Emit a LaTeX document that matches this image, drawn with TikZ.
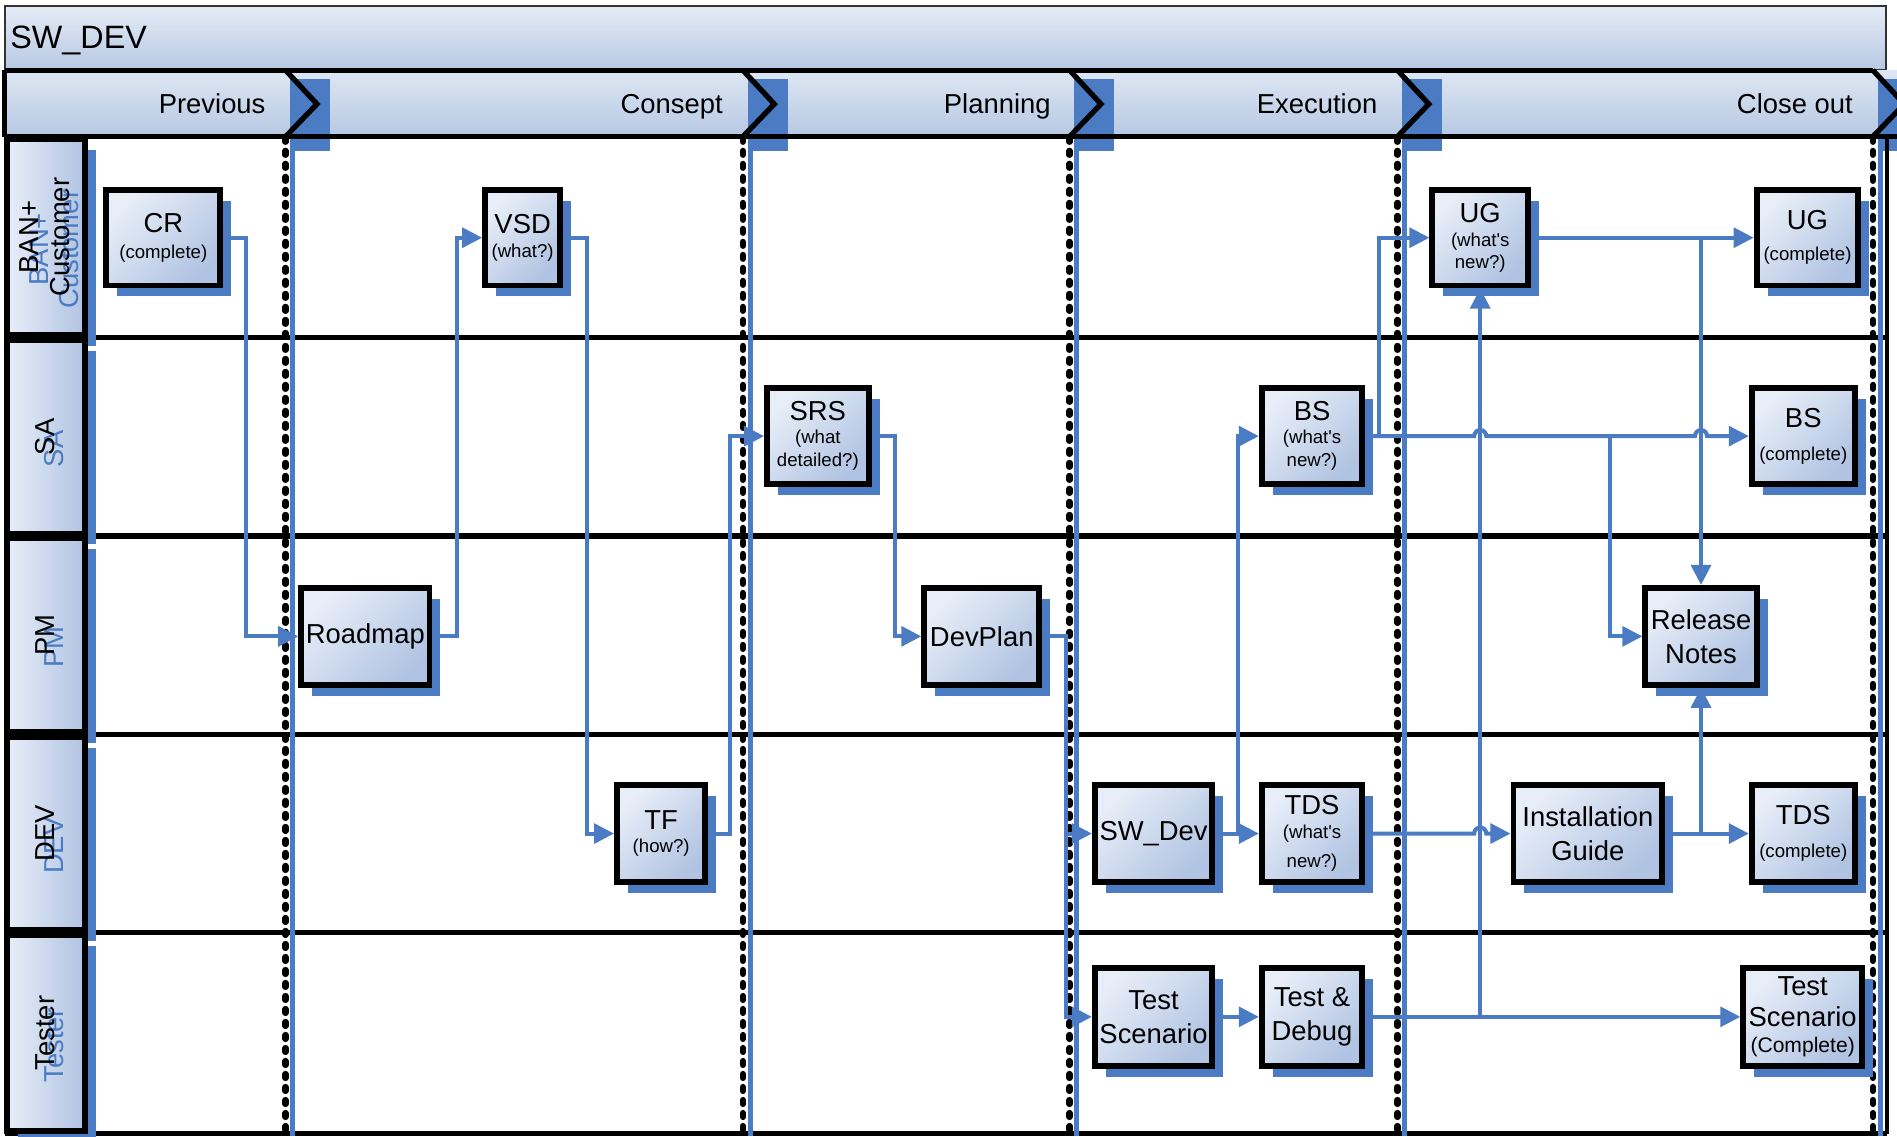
\documentclass[tikz,border=0pt]{standalone}
\usepackage{fontspec}
\setmainfont{Liberation Sans}[Ligatures=TeXOff]
\usetikzlibrary{arrows.meta,shadows,calc}
\definecolor{cblue}{RGB}{74,123,195}
\definecolor{boxlight}{RGB}{232,238,248}
\definecolor{boxdark}{RGB}{176,195,226}
\definecolor{hdrtop}{RGB}{222,231,243}
\definecolor{hdrbot}{RGB}{182,200,227}
\def\ux{0.012098cm}
\newcommand\smalltxt{\fontsize{5.3}{6}\selectfont}
\newcommand\cmpltxt{\fontsize{6}{6}\selectfont}
\newcommand\boxat[7]{\node[#1, minimum width={(#5-#3-4)*\ux}, minimum height={(#6-#4-4)*\ux}] (#2) at ({(#3+#5)/2},{(#4+#6)/2}) {#7};}
\tikzset{
  procbox/.style={draw=black, line width=1.7pt, top color=boxlight, bottom color=boxdark, shading angle=45,
    inner sep=0pt, align=center, font=\fontsize{7.8}{6}\selectfont,
    drop shadow={shadow xshift=9*\ux, shadow yshift=-9*\ux, opacity=1, fill=cblue}},
  lanehdr/.style={draw=black, line width=1.7pt, left color=boxlight, right color=boxdark, inner sep=0pt,
    drop shadow={shadow xshift=9*\ux, shadow yshift=-9*\ux, opacity=1, fill=cblue}},
  lanelab/.style={rotate=90, align=center, inner sep=0pt, font=\fontsize{7.8}{8.6}\selectfont},
  phlab/.style={anchor=base east, inner sep=0pt, font=\fontsize{7.8}{9}\selectfont},
  phasedash/.style={line width=1.8pt, dash pattern=on 1.1pt off 2.6pt, line cap=round},
  conn/.style={draw=cblue, line width=1.15pt, -{Triangle[length=5.7pt, width=5.6pt]}},
}
\begin{document}
\begin{tikzpicture}[x=0.012098cm, y=-0.012098cm]
\useasboundingbox (0,0) rectangle (1568,939);
\clip (0,0) rectangle (1568,939);
\fill[white] (0,0) rectangle (1568,939);

% title band
\shade[top color=hdrtop!80!white, bottom color=hdrbot] (4,5) rectangle (1559,58);
\draw[line width=0.6pt, draw=black!80] (4,5) rectangle (1559,58);
\node[anchor=base west, inner sep=0pt, font=\fontsize{9.2}{11}\selectfont] (title) at (8,40) {SW\_DEV};

% phase header row
\shade[top color=hdrtop, bottom color=hdrbot] (4,58) rectangle (1568,113);

% lane lines
\foreach \y in {279,443,607,771,937} \draw[line width=1.5pt] (4,\y) -- (1560,\y);

% phase separators
\foreach \X in {236,614,884,1155,1548} {
  \fill[cblue] (\X+4,65) rectangle (\X+37,125);
  \draw[cblue, line width=1.4pt] (\X+6,125) -- (\X+6,939);
  \draw[phasedash] (\X,114) -- (\X,937);
}
\draw[line width=1.1pt] (1560,113) -- (1560,937);
\draw[line width=1.5pt] (4,58) -- (1548,58);
\draw[line width=1.5pt] (4,113) -- (1568,113);
\draw[line width=1.5pt] (4,58) -- (4,113);
\foreach \X in {236,614,884,1155,1548} {
  \draw[line width=1.5pt, line join=miter] (\X,58) -- (\X+26,86) -- (\X,113);
}

% phase labels
\node[phlab] (p1) at (220,94) {Previous};
\node[phlab] (p2) at (598,94) {Consept};
\node[phlab] (p3) at (869,94) {Planning};
\node[phlab] (p4) at (1139,94) {Execution};
\node[phlab] (p5) at (1532,94) {Close out};

% lane headers
\boxat{lanehdr}{lh1}{4}{113}{72}{279}{}
\boxat{lanehdr}{lh2}{4}{279}{72}{443}{}
\boxat{lanehdr}{lh3}{4}{443}{72}{607}{}
\boxat{lanehdr}{lh4}{4}{607}{72}{771}{}
\boxat{lanehdr}{lh5}{4}{771}{72}{937}{}

\node[lanelab, text=cblue] (g1) at (45,206) {BAN+\\Customer};
\node[lanelab] (l1) at (37,196) {BAN+\\Customer};
\node[lanelab, text=cblue] (g2) at (45,371) {SA};
\node[lanelab] (l2) at (37,361) {SA};
\node[lanelab, text=cblue] (g3) at (45,535) {PM};
\node[lanelab] (l3) at (37,525) {PM};
\node[lanelab, text=cblue] (g4) at (45,699) {DEV};
\node[lanelab] (l4) at (37,689) {DEV};
\node[lanelab, text=cblue] (g5) at (45,864) {Tester};
\node[lanelab] (l5) at (37,854) {Tester};

% process boxes
\boxat{procbox}{cr}{86}{155}{184}{238}{CR\\[1.2pt]\smalltxt (complete)}
\boxat{procbox}{vsd}{399}{155}{465}{238}{VSD\\[0.9pt]\smalltxt (what?)}
\boxat{procbox}{ugw}{1182}{155}{1265}{238}{UG\\[0.9pt]\smalltxt (what's\\[0.2pt]\smalltxt new?)}
\boxat{procbox}{ugc}{1450}{155}{1538}{238}{UG\\[2.9pt]\smalltxt (complete)}
\boxat{procbox}{srs}{632}{319}{720}{402}{SRS\\[0.5pt]\smalltxt (what\\[0.5pt]\smalltxt detailed?)}
\boxat{procbox}{bsw}{1041}{319}{1128}{402}{BS\\[0.5pt]\smalltxt (what's\\[0.5pt]\smalltxt new?)}
\boxat{procbox}{bsc}{1446}{319}{1535}{402}{BS\\[3.3pt]\smalltxt (complete)}
\boxat{procbox}{road}{247}{484}{357}{568}{Roadmap}
\boxat{procbox}{devplan}{762}{484}{861}{568}{DevPlan}
\boxat{procbox}{rn}{1358}{484}{1454}{568}{Release\\[3.6pt]Notes}
\boxat{procbox}{tf}{508}{647}{585}{731}{TF\\[0.5pt]\smalltxt (how?)}
\boxat{procbox}{swdev}{903}{647}{1004}{731}{SW\_Dev}
\boxat{procbox}{tdsw}{1041}{647}{1128}{731}{TDS\\[0.9pt]\smalltxt (what's\\[2.3pt]\smalltxt new?)}
\boxat{procbox}{inst}{1249}{647}{1376}{731}{Installation\\[3.6pt]Guide}
\boxat{procbox}{tdsc}{1446}{647}{1535}{731}{TDS\\[3.3pt]\smalltxt (complete)}
\boxat{procbox}{tsc}{903}{798}{1004}{883}{Test\\[3.6pt]Scenario}
\boxat{procbox}{td}{1041}{798}{1128}{883}{Test \&\\[3.6pt]Debug}
\boxat{procbox}{tscc}{1439}{798}{1541}{883}{Test\\[2.9pt]Scenario\\[1.4pt]\cmpltxt (Complete)}

% connectors
\draw[conn] (cr.east) -- ++(19,0) |- (road.west);
\draw[conn] (road.east) -- ++(20,0) |- (vsd.west);
\draw[conn] (vsd.east) -- ++(20,0) |- (tf.west);
\draw[conn] (tf.east) -- ++(18,0) |- (srs.west);
\draw[conn] (srs.east) -- ++(19,0) |- (devplan.west);
\draw[conn] (devplan.east) -- ++(20,0) |- (swdev.west);
\draw[conn] (devplan.east) -- ++(20,0) |- (tsc.west);
\draw[conn] (swdev.east) -- (tdsw.west);
\draw[conn] (swdev.east) -- ++(19,0) |- (bsw.west);
\draw[conn] (tsc.east) -- (td.west);
\draw[conn] (bsw.east) -- ++(11,0) |- (ugw.west);
\coordinate (k1) at (ugw.south |- bsw.east);
\coordinate (k2) at (rn.north |- bsw.east);
\coordinate (k3) at (ugw.south |- inst.west);
\draw[conn] (bsw.east) -- ([xshift=-5*\ux]k1) arc[start angle=180, end angle=0, radius=5*\ux]
  -- ([xshift=-5*\ux]k2) arc[start angle=180, end angle=0, radius=5*\ux] -- (bsc.west);
\draw[conn] ($(bsw.east)+(202,0)$) |- (rn.west);
\draw[conn] (ugw.east) -- (ugc.west);
\draw[conn] (rn.north |- ugw.east) -- (rn.north);
\draw[conn] (td.east) -- (tscc.west);
\draw[conn] (ugw.south |- td.east) -- (ugw.south);
\draw[conn] (tdsw.east) -- ([xshift=-5*\ux]k3) arc[start angle=180, end angle=0, radius=5*\ux] -- (inst.west);
\draw[conn] (inst.east) -- (tdsc.west);
\draw[conn] (rn.south |- inst.east) -- (rn.south);
\end{tikzpicture}
\end{document}
